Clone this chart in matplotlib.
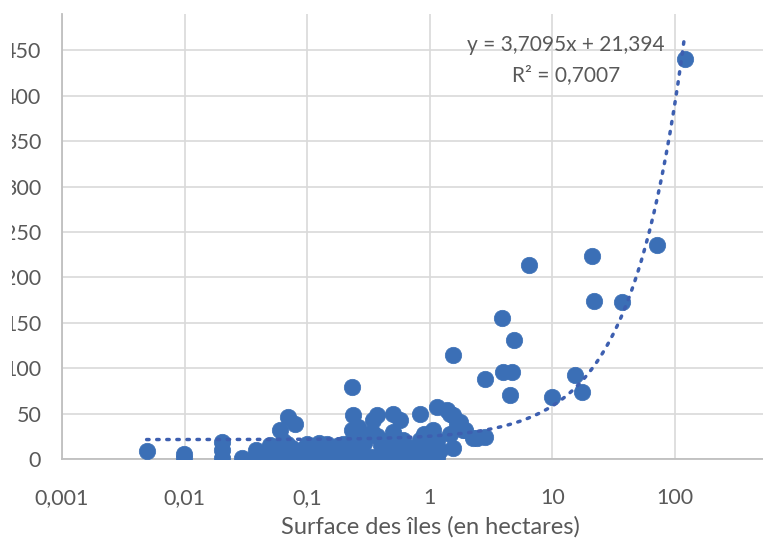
import matplotlib
matplotlib.use('Agg')
import matplotlib.pyplot as plt
import numpy as np
from matplotlib.patches import Rectangle

# Surface (ha) et valeur par île
surface = [
    120, 71.3, 20.9, 21.8, 36.7, 6.44, 3.85, 4.86, 3.96, 4.66, 2.82, 4.51,
    10.0, 15.3, 17.3, 1.56,
    0.0049, 0.0098, 0.0098, 0.0201, 0.0201, 0.0201, 0.0293, 0.0375, 0.0415, 0.0385,
    0.231, 0.070, 0.0795, 0.060, 0.238, 0.231, 0.369, 0.503, 0.571, 0.832,
    1.14, 1.37, 1.56, 1.76, 1.94, 2.26, 2.82, 1.07, 1.14, 1.56, 1.14, 0.832,
    0.832, 0.0528, 0.0545, 0.068, 0.082, 0.099, 0.119, 0.144, 0.173, 0.196,
    0.253, 0.305, 0.346, 0.334, 0.369, 0.473, 0.61, 0.89, 1.46, 1.66, 1.86,
    1.46, 2.41, 1.07, 1.0, 0.78, 0.65, 0.473, 0.369,
    0.045, 0.05, 0.065, 0.075, 0.09, 0.11, 0.13, 0.16, 0.18, 0.21, 0.27, 0.29,
    0.4, 0.42, 0.55, 0.7, 0.95, 1.2, 0.6, 0.26, 0.23, 0.34, 0.9, 1.1, 0.5,
    0.45, 0.125, 0.063, 0.07, 0.1, 0.15, 0.2, 0.3,
]
valeur = [
    440, 236, 223, 174, 173, 214, 155, 131, 96, 96, 88, 70,
    68, 93, 74, 114,
    9, 5, 1, 19, 10, 1, 1, 2.5, 0, 10,
    79, 46, 39, 32, 48, 32, 48, 50, 43, 50,
    57, 54, 48, 41, 32, 23, 24.6, 32, 21, 12, 2.5, 2.5,
    21, 10, 0, 17, 6, 17, 2.5, 17, 2.5, 17,
    2.5, 25, 43, 2.5, 25, 10, 21, 28, 50, 39, 32,
    28, 23, 6, 21, 2.5, 2.5, 2.5, 2.5,
    5, 15, 3, 12, 10, 14, 8, 10, 15, 8, 12, 18,
    15, 5, 12, 12, 12, 10, 6, 35, 20, 30, 0.5, 0.5, 30,
    20, 18, 20, 0, 0, 0, 0, 0,
]

# courbe de tendance linéaire (Excel)
pente = 3.7095
ordonnee = 21.394
r2_txt = '0,7007'

x_ticks = [0.001, 0.01, 0.1, 1, 10, 100]
x_labels = ['0,001', '0,01', '0,1', '1', '10', '100']
y_ticks = list(range(0, 451, 50))

plt.rcParams['font.family'] = ['Lato', 'DejaVu Sans']
GRIS = '#595959'
BLEU = '#3b6fb6'

W, H = 763, 544
x0, y_bas, y_haut = 62, 459, 14
fig = plt.figure(figsize=(W / 100, H / 100), dpi=100)
ax = fig.add_axes([x0 / W, (H - y_bas) / H, 1 - x0 / W, (y_bas - y_haut) / H])

ax.scatter(surface, valeur, s=140, color=BLEU, edgecolors=BLEU, linewidths=0.5, zorder=3)

xs = np.geomspace(min(surface), max(surface), 400)
ax.plot(xs, pente * xs + ordonnee, color='#3d5fb0', linewidth=2.5,
        linestyle=(0, (0.7, 2.2)), dash_capstyle='round', zorder=4)

ax.set_xscale('log')
ax.set_xlim(0.001, 522)
ax.set_ylim(0, 490)
ax.set_xticks(x_ticks)
ax.set_xticklabels(x_labels)
ax.xaxis.set_minor_locator(matplotlib.ticker.NullLocator())
ax.set_yticks(y_ticks)
ax.set_yticklabels([str(v) for v in y_ticks])
ax.tick_params(axis='both', length=0, labelsize=15.5, colors=GRIS)
ax.tick_params(axis='x', pad=21)
ax.tick_params(axis='y', pad=15)

ax.grid(True, color='#d9d9d9', linewidth=1.2)
ax.set_axisbelow(True)
for side in ['top', 'right']:
    ax.spines[side].set_visible(False)
for side in ['left', 'bottom']:
    ax.spines[side].set_color('#bfbfbf')
    ax.spines[side].set_linewidth(1.3)

fig.text(430 / W, 1 - 527 / H, 'Surface des îles (en hectares)',
         ha='center', va='center', fontsize=17, color=GRIS)

fig.text(566 / W, 1 - 45 / H, f'y = {pente:.4f}x + {ordonnee:.3f}'.replace('.', ','),
         ha='center', va='center', fontsize=15, color=GRIS)
fig.text(566 / W, 1 - 75 / H, f'R² = {r2_txt}',
         ha='center', va='center', fontsize=15, color=GRIS)

# bord gauche rogné
fig.patches.append(Rectangle((0, 0), 12 / W, 1, transform=fig.transFigure,
                             facecolor='white', edgecolor='none', zorder=10))

fig.savefig('out.png', dpi=100)
